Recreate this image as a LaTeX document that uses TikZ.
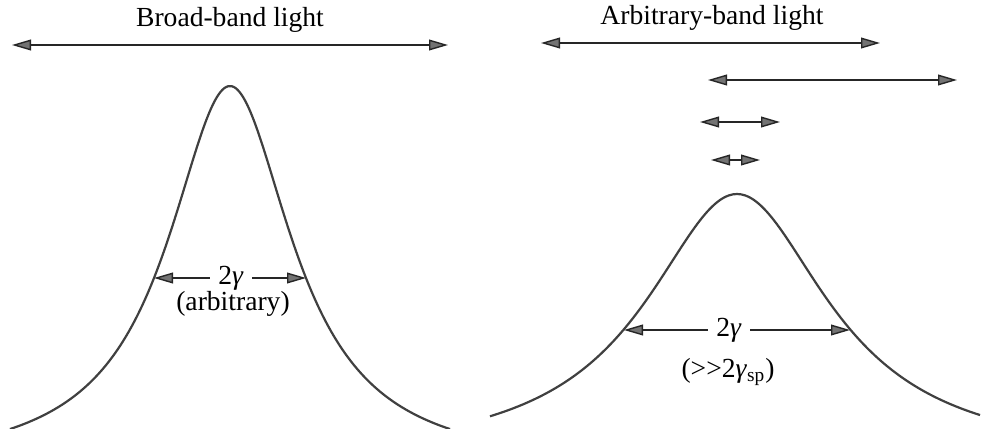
\documentclass[tikz,border=0pt]{standalone}
\usepackage{fontspec}
\setmainfont{Liberation Serif}
\usetikzlibrary{arrows.meta}

\begin{document}
\begin{tikzpicture}[
  x=0.5pt, y=-0.5pt,
  font=\fontsize{13.8}{16}\selectfont,
  >={Triangle[length=9.5pt, width=5.4pt, fill=black!55]},
  band/.style={<->, line width=0.7pt, draw=black!85},
  half/.style={->, line width=0.7pt, draw=black!85},
  profile/.style={line width=1.1pt, draw=black!75},
  gap/.style={inner xsep=4pt, inner ysep=0pt}
]
  \useasboundingbox (0,0) rectangle (982,429);

  \draw[profile] plot[domain=10:450, samples=120, smooth]
    (\x, {470 - 384/(1+((\x-230)/76)^2)});
  \draw[profile] plot[domain=490:980, samples=120, smooth]
    (\x, {462 - 268/(1+((\x-737)/112)^2)});

  \node (broad) at (230,20) {Broad-band light};
  \coordinate (bl) at (12,45);
  \coordinate (br) at (448,45);
  \draw[band] (bl) -- (br);

  \node (arb) at (712,18) {Arbitrary-band light};
  \coordinate (al) at (541,43);
  \coordinate (ar) at (880,43);
  \draw[band] (al) -- (ar);

  \coordinate (wl) at (708,80);
  \coordinate (wr) at (957,80);
  \coordinate (ml) at (700,122);
  \coordinate (mr) at (780,122);
  \coordinate (nl) at (711,160);
  \coordinate (nr) at (760,160);
  \draw[band] (wl) -- (wr);
  \draw[band] (ml) -- (mr);
  \draw[band] (nl) -- (nr);

  \node[gap] (gbroad) at (231,278) {2\textit{γ}};
  \node (arbit) at (233,304) {(arbitrary)};
  \coordinate (hbl) at (154,278);
  \coordinate (hbr) at (306,278);
  \draw[half] (gbroad) -- (hbl);
  \draw[half] (gbroad) -- (hbr);

  \node[gap] (garb) at (729,330) {2\textit{γ}};
  \node (sp) at (728,372) {(>{}>2\textit{γ}\textsubscript{sp})};
  \coordinate (hal) at (624,330);
  \coordinate (har) at (850,330);
  \draw[half] (garb) -- (hal);
  \draw[half] (garb) -- (har);
\end{tikzpicture}
\end{document}
